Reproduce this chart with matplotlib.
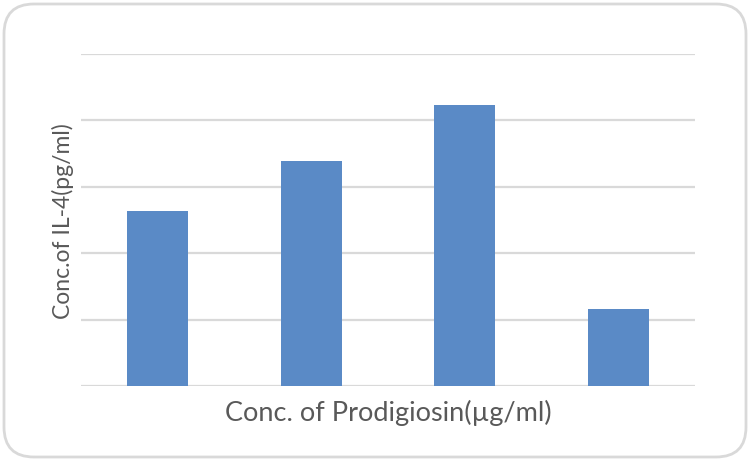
import matplotlib
matplotlib.use("Agg")
import matplotlib.pyplot as plt
from matplotlib.patches import FancyBboxPatch

categories = ["1", "2", "3", "4"]
values = [2.64, 3.39, 4.23, 1.16]
xlabel = "Conc. of Prodigiosin(µg/ml)"
ylabel = "Conc.of IL-4(pg/ml)"

plt.rcParams['font.family'] = ['Lato', 'DejaVu Sans']

W, H = 750, 461
fig = plt.figure(figsize=(W/100, H/100), dpi=100)
ax = fig.add_axes([81/W, 1 - 386/H, (695-81)/W, (386-54)/H])

x = list(range(len(categories)))
ax.bar(x, values, width=0.40, color="#5a8ac6", zorder=3)
ax.set_xlim(-0.5, len(categories) - 0.5)
ax.set_ylim(0, 5)
ax.set_yticks([0, 1, 2, 3, 4, 5])
ax.yaxis.grid(True, color="#d9d9d9", linewidth=1.6, zorder=0)
ax.set_xticks(x)
ax.set_xticklabels([])
ax.set_yticklabels([])
ax.tick_params(length=0)
for s in ax.spines.values():
    s.set_visible(False)

fig.text(388/W, 1 - 413/H, xlabel, fontsize=19.5, color="#595959",
         ha="center", va="center")
fig.text(63/W, 1 - 221/H, ylabel, fontsize=16.5, color="#595959",
         ha="center", va="center", rotation=90)

frame = FancyBboxPatch((4/W, 4/H), 742/W, 453/H,
                       boxstyle="round,pad=0,rounding_size=0.04",
                       transform=fig.transFigure, facecolor="none",
                       edgecolor="#d9d9d9", linewidth=2, mutation_aspect=W/H)
fig.patches.append(frame)

fig.savefig("out.png", dpi=100)
